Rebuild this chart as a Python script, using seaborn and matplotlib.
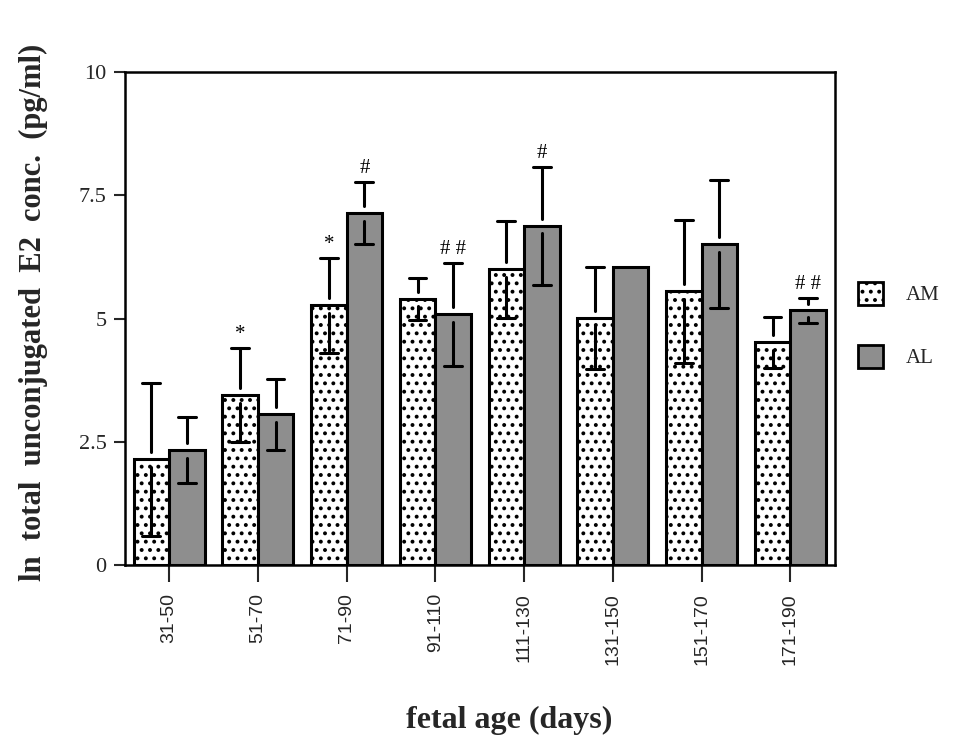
import numpy as np
import pandas as pd
import matplotlib
matplotlib.use("Agg")
import matplotlib.pyplot as plt
import seaborn as sns
from matplotlib.patches import Patch

# fetal age classes (days)
age_classes = ["31-50", "51-70", "71-90", "91-110", "111-130", "131-150", "151-170", "171-190"]

# mean ln E2 and SD per group
am_mean = [2.15, 3.45, 5.27, 5.40, 6.00, 5.01, 5.56, 4.52]
am_sd = [1.55, 0.95, 0.97, 0.42, 0.98, 1.03, 1.45, 0.52]
al_mean = [2.33, 3.06, 7.14, 5.09, 6.88, 6.04, 6.51, 5.17]
al_sd = [0.67, 0.72, 0.63, 1.05, 1.20, 0.0, 1.30, 0.25]

# significance marks above the upper whisker
am_marks = ["", "*", "*", "", "", "", "", ""]
al_marks = ["", "", "#", "# #", "#", "", "", "# #"]

groups = ["AM", "AL"]

df = pd.DataFrame({
    "age": age_classes * 2,
    "group": ["AM"] * len(age_classes) + ["AL"] * len(age_classes),
    "value": am_mean + al_mean,
})

sns.set_style("white")
plt.rcParams["hatch.linewidth"] = 1.6
plt.rcParams["hatch.color"] = "black"

fig = plt.figure(figsize=(9.74, 7.37), dpi=100)
ax = fig.add_axes([0.128, 0.233, 0.729, 0.669])

am_color = "white"
al_color = "#8e8e8e"
dots = ".."
sns.barplot(data=df, x="age", y="value", hue="group", order=age_classes,
            hue_order=groups, palette={"AM": am_color, "AL": al_color},
            errorbar=None, width=0.8, edgecolor="black", linewidth=2.2,
            legend=False, ax=ax)

# dotted fill for the AM bars
n = len(age_classes)
bars = ax.patches[:2 * n]
for b in bars[:n]:
    b.set_hatch(dots)

# split whiskers: a short gap around the bar top, caps on both ends
gap = 0.15
cap_half = 0.1
serif = "Liberation Serif"
for series_bars, means, sds, marks in ((bars[:n], am_mean, am_sd, am_marks),
                                       (bars[n:], al_mean, al_sd, al_marks)):
    for b, m, s, mk in zip(series_bars, means, sds, marks):
        xc = b.get_x() + b.get_width() / 2
        if s > 0:
            hi, lo = m + s, m - s
            ax.plot([xc, xc], [m + min(gap, s * 0.5), hi], color="black", lw=2.2, zorder=4)
            ax.plot([xc, xc], [m - min(gap, s * 0.5), lo], color="black", lw=2.2, zorder=4)
            ax.plot([xc - cap_half, xc + cap_half], [hi, hi], color="black", lw=2.2, zorder=4)
            ax.plot([xc - cap_half, xc + cap_half], [lo, lo], color="black", lw=2.2, zorder=4)
            top = hi
        else:
            top = m
        if mk:
            ax.text(xc, top + 0.08, mk, ha="center", va="bottom", fontsize=15,
                    family=serif, color="black", zorder=5)

ax.set_xlim(-0.5, n - 0.5)
ax.set_ylim(0, 10)
ax.set_yticks([0, 2.5, 5, 7.5, 10])
ax.set_yticklabels(["0", "2.5", "5", "7.5", "10"], family=serif, fontsize=16)
ax.set_xticks(range(n))
ax.set_xticklabels(age_classes, rotation=90, family="Liberation Sans", fontsize=14)
ax.tick_params(axis="y", direction="out", length=8, width=1.5, left=True, pad=5)
ax.tick_params(axis="x", direction="out", length=12, width=1.5, bottom=True, pad=8)

for sp in ax.spines.values():
    sp.set_visible(True)
    sp.set_color("black")
    sp.set_linewidth(1.8)

ax.set_xlabel("fetal age (days)", family=serif, fontweight="bold", fontsize=23)
ax.xaxis.set_label_coords(0.542, -0.286)
ax.set_ylabel("ln  total  unconjugated  E2  conc.  (pg/ml)", family=serif,
              fontweight="bold", fontsize=22)
ax.yaxis.set_label_coords(-0.108, 0.513)

handles = [Patch(facecolor=am_color, edgecolor="black", hatch=dots, linewidth=2),
           Patch(facecolor=al_color, edgecolor="black", linewidth=2)]
fig.legend(handles, groups, loc="center left", bbox_to_anchor=(0.870, 0.559),
           frameon=False, prop={"family": serif, "size": 15}, borderpad=0,
           handlelength=1.2, handleheight=1.3, labelspacing=1.9, handletextpad=1.1)

fig.savefig("out.png", dpi=100, facecolor="white")
